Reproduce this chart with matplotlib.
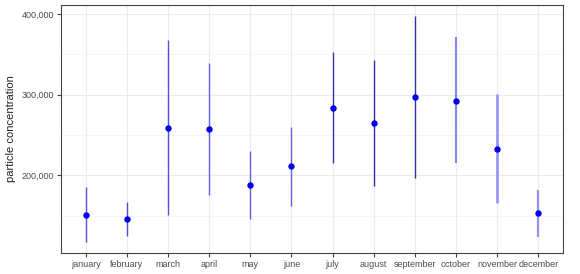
import matplotlib.pyplot as plt
from matplotlib.ticker import FuncFormatter, MultipleLocator

months = ['january', 'february', 'march', 'april', 'may', 'june', 'july',
          'august', 'september', 'october', 'november', 'december']
mean_vals = [151000, 146000, 258700, 257100, 188100, 212000, 283900,
             264900, 297500, 292200, 233100, 153000]
upper_vals = [185200, 167000, 367800, 338900, 230200, 260400, 352500,
              343000, 397900, 371100, 300500, 181900]
lower_vals = [117500, 124900, 150900, 175700, 145600, 162100, 215000,
              187200, 196400, 215000, 166200, 124000]

# line shades differ per month in the original
line_cols = ['#5050e6', '#5050e6', '#5050e6', '#6060e6', '#6060e6', '#6060e6',
             '#3030a8', '#3030a8', '#3030a8', '#8585f0', '#9494f0', '#9494f0']
line_ws = [1.0, 1.0, 1.0, 1.0, 1.0, 1.0, 1.0, 1.0, 1.0, 1.5, 1.9, 1.6]

plt.rcParams['font.family'] = ['Liberation Sans', 'DejaVu Sans']

fig = plt.figure(figsize=(5.8, 2.74), dpi=100)
ax = fig.add_axes([61 / 580, 21 / 274, 502 / 580, 248 / 274])

x = list(range(len(months)))
for i in x:
    ax.plot([i, i], [lower_vals[i], upper_vals[i]], color=line_cols[i],
            lw=line_ws[i], solid_capstyle='butt', zorder=3)
ax.plot(x, mean_vals, 'o', color='#0000ee', ms=4.6, mec='none', zorder=4)

ax.set_xlim(-0.6, 11.6)
ax.set_ylim(103800, 411200)
ax.set_xticks(x)
ax.set_xticklabels(months)
ax.yaxis.set_major_locator(MultipleLocator(100000))
ax.yaxis.set_minor_locator(MultipleLocator(50000))
ax.yaxis.set_major_formatter(FuncFormatter(lambda v, p: '{:,.0f}'.format(v)))

ax.grid(which='major', color='#ebebeb', lw=0.8, zorder=0)
ax.grid(which='minor', axis='y', color='#f2f2f2', lw=0.5, zorder=0)
ax.set_axisbelow(True)
for s in ax.spines.values():
    s.set_color('#444444')
    s.set_linewidth(0.8)
ax.tick_params(which='major', length=3, color='#444444', labelsize=6.5,
               labelcolor='#4d4d4d', pad=2)
ax.tick_params(which='minor', length=0)
ax.set_ylabel('particle concentration', fontsize=8, color='#222222', labelpad=4)

fig.savefig('out.png', dpi=100)
